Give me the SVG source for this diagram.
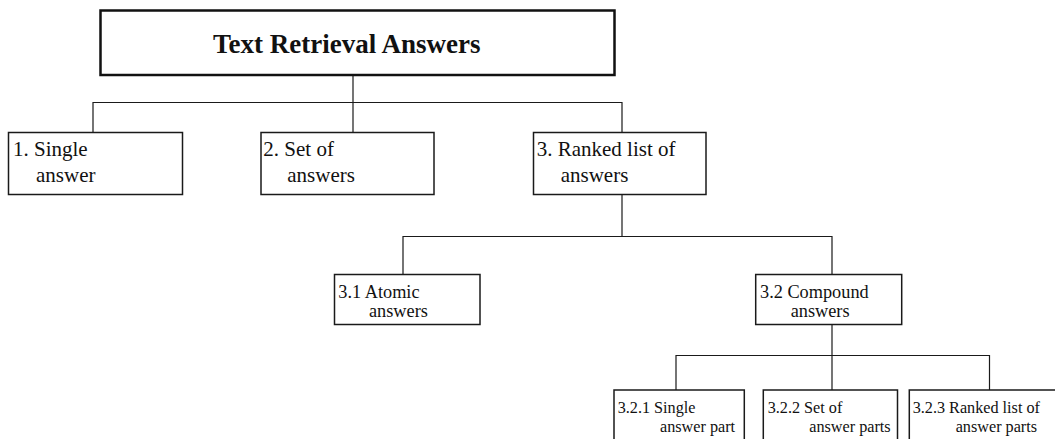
<svg xmlns="http://www.w3.org/2000/svg" width="1055" height="439" viewBox="0 0 1055 439">
<style>
  .box { fill: #ffffff; stroke: #1a1a1a; stroke-width: 1.5; }
  .top { fill: #ffffff; stroke: #111111; stroke-width: 2.5; }
  .conn { fill: none; stroke: #1a1a1a; stroke-width: 1.2; }
  text { font-family: "Liberation Serif", "Times New Roman", serif; fill: #111111; }
  .title { font-size: 27px; font-weight: bold; }
  .l1 { font-size: 21px; }
  .l2 { font-size: 18.3px; }
  .l3 { font-size: 16.2px; }
</style>
<rect width="1055" height="439" fill="#ffffff"/>
<g id="connectors">
  <path class="conn" d="M353,75 V102.5"/>
  <path class="conn" d="M93,132.5 V102.5 H622 V132.5"/>
  <path class="conn" d="M353,102.5 V132.5"/>
  <path class="conn" d="M622,194.5 V236.5"/>
  <path class="conn" d="M403,274.5 V236.5 H832 V274.5"/>
  <path class="conn" d="M832,324.5 V355.5"/>
  <path class="conn" d="M676,390 V355.5 H989.5 V390"/>
  <path class="conn" d="M832,355.5 V390"/>
</g>
<g id="root">
  <rect class="top" x="100.5" y="10.5" width="514" height="64.5"/>
  <text class="title" x="213" y="53">Text Retrieval Answers</text>
</g>
<g id="n1">
  <rect class="box" x="8.5" y="132.5" width="174" height="62"/>
  <text class="l1"><tspan x="13" y="155.7">1. Single</tspan><tspan x="36" y="182">answer</tspan></text>
</g>
<g id="n2">
  <rect class="box" x="261" y="132.5" width="173" height="62"/>
  <text class="l1"><tspan x="263.3" y="155.7">2. Set of</tspan><tspan x="287.3" y="182">answers</tspan></text>
</g>
<g id="n3">
  <rect class="box" x="533.5" y="132.5" width="172.5" height="62"/>
  <text class="l1"><tspan x="536.7" y="155.7">3. Ranked list of</tspan><tspan x="560.7" y="182">answers</tspan></text>
</g>
<g id="n31">
  <rect class="box" x="334.5" y="274.5" width="145.5" height="50"/>
  <text class="l2"><tspan x="338.3" y="298">3.1 Atomic</tspan><tspan x="369" y="317">answers</tspan></text>
</g>
<g id="n32">
  <rect class="box" x="755.7" y="274.5" width="146" height="50"/>
  <text class="l2"><tspan x="760" y="298">3.2 Compound</tspan><tspan x="790.7" y="317">answers</tspan></text>
</g>
<g id="n321">
  <rect class="box" x="614" y="390" width="130.3" height="60"/>
  <text class="l3"><tspan x="617.7" y="412.7">3.2.1 Single</tspan><tspan x="660" y="431.7">answer part</tspan></text>
</g>
<g id="n322">
  <rect class="box" x="763.3" y="390" width="134.2" height="60"/>
  <text class="l3"><tspan x="767.7" y="412.7">3.2.2 Set of</tspan><tspan x="809.3" y="431.7">answer parts</tspan></text>
</g>
<g id="n323">
  <rect class="box" x="909.3" y="390" width="160" height="60"/>
  <text class="l3"><tspan x="912.7" y="412.7">3.2.3 Ranked list of</tspan><tspan x="955.7" y="431.7">answer parts</tspan></text>
</g>
</svg>
